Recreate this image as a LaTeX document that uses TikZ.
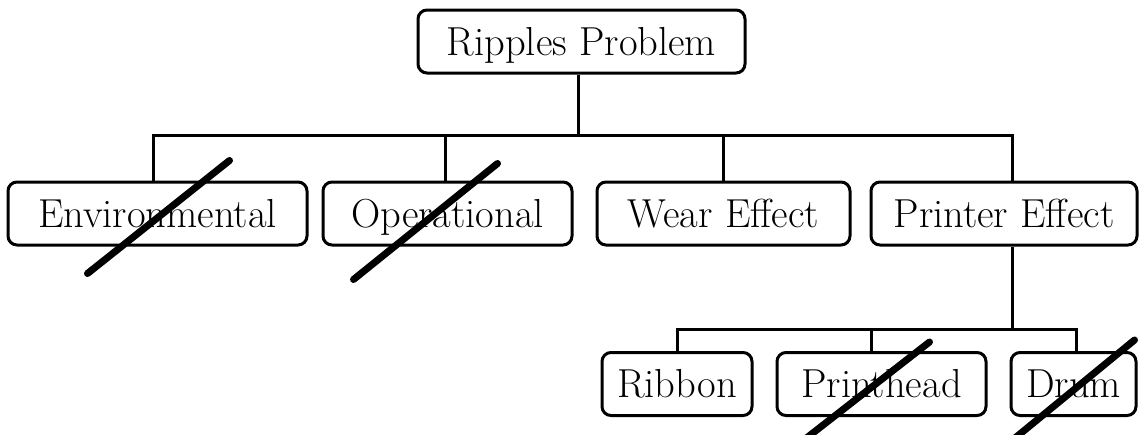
\documentclass[tikz,border=0pt]{standalone}
\usepackage{tikz}

\begin{document}
\begin{tikzpicture}[x=1pt,y=-1pt,
	box/.style={draw=black,line width=3pt,rounded corners=9pt,minimum height=63pt,inner sep=0pt,text height=27pt,text depth=0pt,font=\fontsize{40.5}{48}\selectfont},
	link/.style={line width=3pt},
	strike/.style={line width=7pt,line cap=round}]
	
	\useasboundingbox (0,0) rectangle (1139,434);
	
	\node[box,minimum width=327pt] (root)      at (581.5,41.5)  {Ripples Problem};
	\node[box,minimum width=299pt] (env)       at (157.5,213.5) {Environmental};
	\node[box,minimum width=249pt] (oper)      at (447.5,213.5) {Operational};
	\node[box,minimum width=253pt] (wear)      at (723.5,213.5) {Wear Effect};
	\node[box,minimum width=266pt] (printer)   at (1004,213.5)  {Printer Effect};
	\node[box,minimum width=150pt] (ribbon)    at (677,384)     {Ribbon};
	\node[box,minimum width=209pt] (printhead) at (881.5,384)   {Printhead};
	\node[box,minimum width=125pt] (drum)      at (1073.5,384)  {Drum};
	
	\coordinate (top) at (0,135);
	\coordinate (low) at (0,329);
	
	\draw[link] ([xshift=-3]root.south) -- ([xshift=-3]root.south |- top);
	\draw[link] ([xshift=-4]env.north) |- ([xshift=8]printer.north |- top) -- ([xshift=8]printer.north);
	\draw[link] ([xshift=-2]oper.north) -- ([xshift=-2]oper.north |- top);
	\draw[link] (wear.north) -- (wear.north |- top);
	
	\draw[link] ([xshift=8]printer.south) -- ([xshift=8]printer.south |- low);
	\draw[link] (ribbon.north) |- ([xshift=3]drum.north |- low) -- ([xshift=3]drum.north);
	\draw[link] ([xshift=-10]printhead.north) -- ([xshift=-10]printhead.north |- low);
	
	% crossed out
	\draw[strike] ([shift={(-70,60)}]env.center) -- ([shift={(72,-53)}]env.center);
	\draw[strike] ([shift={(-94,66)}]oper.center) -- ([shift={(50,-50)}]oper.center);
	\draw[strike] ([shift={(-84,61)}]printhead.center) -- ([shift={(48,-42)}]printhead.center);
	\draw[strike] ([shift={(-67,61)}]drum.center) -- ([shift={(61,-44)}]drum.center);
	
\end{tikzpicture}
\end{document}
